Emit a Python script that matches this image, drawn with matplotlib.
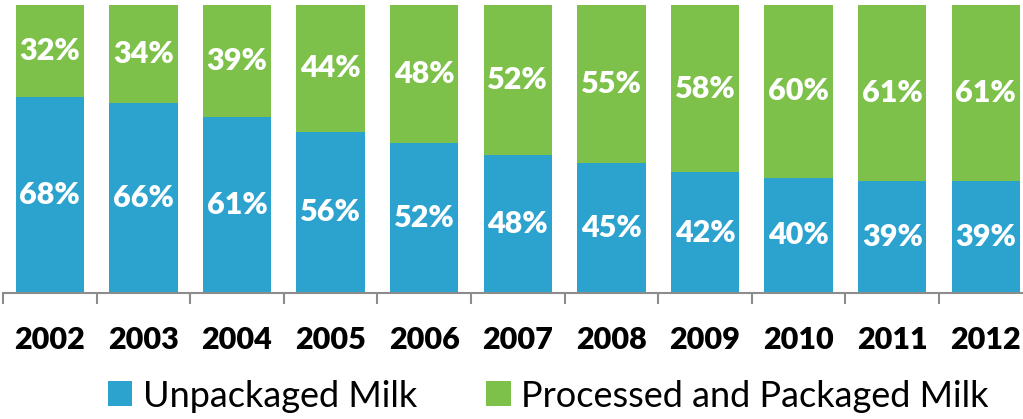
import numpy as np
import matplotlib.pyplot as plt

years = ['2002', '2003', '2004', '2005', '2006', '2007', '2008', '2009', '2010', '2011', '2012']
unpackaged = [68, 66, 61, 56, 52, 48, 45, 42, 40, 39, 39]
packaged = [32, 34, 39, 44, 48, 52, 55, 58, 60, 61, 61]

blue = '#2CA3CF'
green = '#7DC14A'

plt.rcParams['font.family'] = ['Lato', 'DejaVu Sans']

fig = plt.figure(figsize=(10.23, 4.19), dpi=100)
W, H = 1023, 419
# axis spans 11 category slots of ~93.6 px; right edge runs off the canvas
ax = fig.add_axes([3 / W, (H - 293) / H, 11 * 93.6 / W, 288 / H])

x = np.arange(len(years))
b1 = ax.bar(x, unpackaged, width=0.73, color=blue, label='Unpackaged Milk')
b2 = ax.bar(x, packaged, width=0.73, bottom=unpackaged, color=green,
            label='Processed and Packaged Milk')

for i in range(len(years)):
    ax.text(x[i], unpackaged[i] / 2, f'{unpackaged[i]}%', ha='center', va='center',
            color='white', fontsize=22, fontweight='heavy')
    ax.text(x[i], unpackaged[i] + packaged[i] / 2, f'{packaged[i]}%', ha='center',
            va='center', color='white', fontsize=22, fontweight='heavy')

ax.set_xlim(-0.5, len(years) - 0.5)
ax.set_ylim(0, 100)
for s in ['top', 'right', 'left']:
    ax.spines[s].set_visible(False)
ax.spines['bottom'].set_color('#8C8C8C')
ax.spines['bottom'].set_linewidth(1.5)
ax.set_yticks([])

# ticks between categories, labels centred on bars
ax.set_xticks(np.arange(-0.5, len(years), 1.0))
ax.set_xticklabels([])
ax.tick_params(axis='x', which='major', length=8, width=1.5, color='#8C8C8C', direction='out')
ax.set_xticks(x, minor=True)
ax.set_xticklabels(years, minor=True, fontsize=22, fontweight='heavy')
ax.tick_params(axis='x', which='minor', length=0, pad=24)

fig.legend(handles=[b1, b2], loc='center', bbox_to_anchor=(0.536, (H - 396) / H),
           ncol=2, frameon=False, fontsize=26, handlelength=0.68, handleheight=0.68,
           handletextpad=0.3, columnspacing=1.9, borderpad=0)

fig.savefig('out.png', dpi=100)
